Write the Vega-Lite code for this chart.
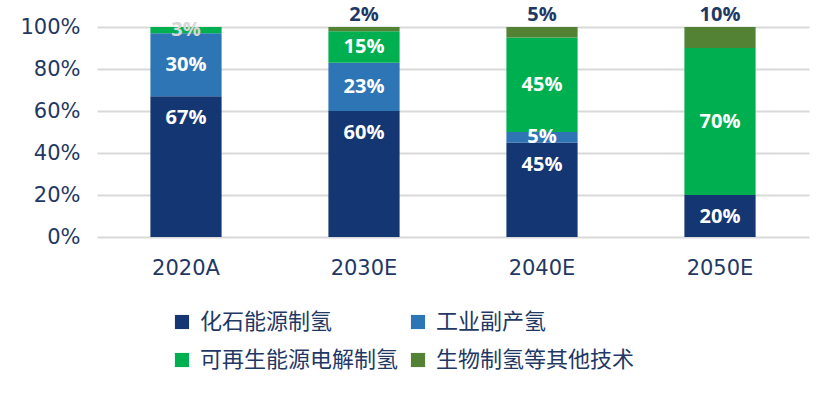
{
  "$schema": "https://vega.github.io/schema/vega-lite/v6.json",
  "width": 712,
  "height": 210,
  "autosize": "none",
  "padding": {"left": 97, "top": 27, "right": 24, "bottom": 160},
  "background": "white",
  "data": {
    "values": [
      {"year": "2020A", "type": "化石能源制氢", "value": 67},
      {"year": "2020A", "type": "工业副产氢", "value": 30},
      {"year": "2020A", "type": "可再生能源电解制氢", "value": 3},
      {"year": "2030E", "type": "化石能源制氢", "value": 60},
      {"year": "2030E", "type": "工业副产氢", "value": 23},
      {"year": "2030E", "type": "可再生能源电解制氢", "value": 15},
      {"year": "2030E", "type": "生物制氢等其他技术", "value": 2},
      {"year": "2040E", "type": "化石能源制氢", "value": 45},
      {"year": "2040E", "type": "工业副产氢", "value": 5},
      {"year": "2040E", "type": "可再生能源电解制氢", "value": 45},
      {"year": "2040E", "type": "生物制氢等其他技术", "value": 5},
      {"year": "2050E", "type": "化石能源制氢", "value": 20},
      {"year": "2050E", "type": "可再生能源电解制氢", "value": 70},
      {"year": "2050E", "type": "生物制氢等其他技术", "value": 10}
    ]
  },
  "transform": [
    {"calculate": "indexof(['化石能源制氢','工业副产氢','可再生能源电解制氢','生物制氢等其他技术'], datum.type)", "as": "k"},
    {"stack": "value", "groupby": ["year"], "sort": [{"field": "k", "order": "ascending"}], "as": ["v0", "v1"]},
    {"calculate": "(datum.v0 + datum.v1) / 2", "as": "vm"},
    {"calculate": "datum.value + '%'", "as": "label"}
  ],
  "encoding": {
    "x": {
      "field": "year",
      "type": "nominal",
      "scale": {"paddingInner": 0.6, "paddingOuter": 0.3},
      "axis": {
        "title": null,
        "labelAngle": 0,
        "ticks": false,
        "domain": false,
        "labelPadding": 20,
        "labelFont": "DejaVu Sans",
        "labelFontSize": 21,
        "labelColor": "#1F3864"
      }
    }
  },
  "layer": [
    {
      "mark": {"type": "bar"},
      "encoding": {
        "y": {
          "field": "v1",
          "type": "quantitative",
          "scale": {"domain": [0, 100]},
          "axis": {
            "title": null,
            "values": [0, 20, 40, 60, 80, 100],
            "labelExpr": "datum.value + '%'",
            "ticks": false,
            "domain": false,
            "grid": true,
            "gridColor": "#D9D9D9",
            "gridWidth": 2,
            "labelPadding": 17,
            "labelFont": "DejaVu Sans",
            "labelFontSize": 21,
            "labelColor": "#1F3864"
          }
        },
        "y2": {"field": "v0"},
        "color": {
          "field": "type",
          "type": "nominal",
          "scale": {
            "domain": ["化石能源制氢", "工业副产氢", "可再生能源电解制氢", "生物制氢等其他技术"],
            "range": ["#143672", "#2E75B6", "#00B050", "#548235"]
          },
          "legend": {
            "title": null,
            "orient": "none",
            "direction": "horizontal",
            "legendX": 74,
            "legendY": 284,
            "columns": 2,
            "columnPadding": 8,
            "rowPadding": 16,
            "padding": 0,
            "symbolType": "square",
            "symbolSize": 200,
            "symbolStrokeWidth": 0,
            "labelFont": "Noto Sans CJK SC",
            "labelFontSize": 22,
            "labelColor": "#1F3864",
            "labelOffset": 7,
            "labelLimit": 400
          }
        }
      }
    },
    {
      "transform": [{"filter": "datum.k == 0"}],
      "mark": {"type": "text", "font": "Open Sans", "fontWeight": "bold", "fontSize": 20, "baseline": "middle", "dy": 22},
      "encoding": {
        "y": {"field": "v1", "type": "quantitative"},
        "text": {"field": "label"},
        "color": {"value": "white"}
      }
    },
    {
      "transform": [{"filter": "datum.k == 1 || datum.k == 2"}],
      "mark": {"type": "text", "font": "Open Sans", "fontWeight": "bold", "fontSize": 20, "baseline": "middle"},
      "encoding": {
        "y": {"field": "vm", "type": "quantitative"},
        "text": {"field": "label"},
        "color": {"condition": {"test": "datum.year == '2020A' && datum.k == 2", "value": "#D6D6D6"}, "value": "white"}
      }
    },
    {
      "transform": [{"filter": "datum.k == 3"}],
      "mark": {"type": "text", "font": "Open Sans", "fontWeight": "bold", "fontSize": 20, "baseline": "middle", "dy": -12},
      "encoding": {
        "y": {"field": "v1", "type": "quantitative"},
        "text": {"field": "label"},
        "color": {"value": "#1F3864"}
      }
    }
  ],
  "config": {"view": {"stroke": null}}
}
